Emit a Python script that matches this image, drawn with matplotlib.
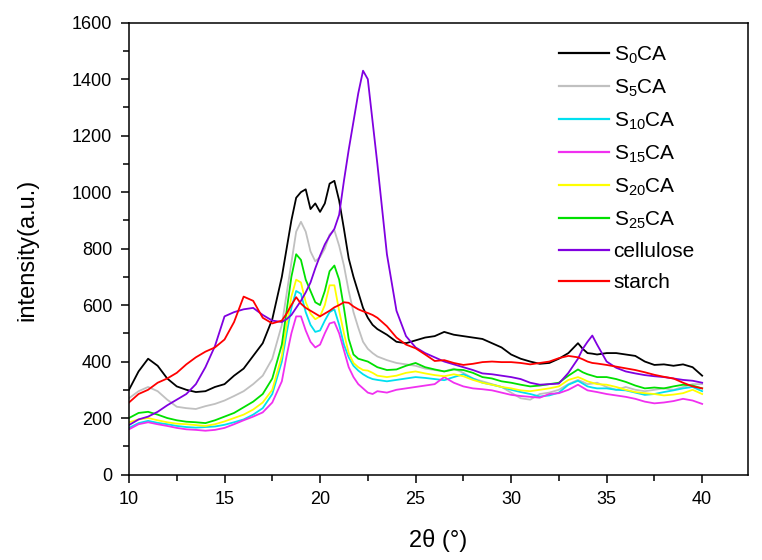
import matplotlib
matplotlib.use("Agg")
import matplotlib.pyplot as plt
from matplotlib.ticker import MultipleLocator
import numpy as np

plt.rcParams['font.family'] = ['Liberation Sans', 'DejaVu Sans']
plt.rcParams['mathtext.fontset'] = 'custom'
plt.rcParams['mathtext.rm'] = 'Liberation Sans'
plt.rcParams['mathtext.it'] = 'Liberation Sans:italic'

two_theta = [10, 10.5, 11, 11.5, 12, 12.5, 13, 13.5, 14, 14.5, 15, 15.5, 16, 16.5, 17, 17.5, 18,
             18.25, 18.5, 18.75, 19, 19.25, 19.5, 19.75, 20, 20.25, 20.5, 20.75, 21, 21.25, 21.5, 21.75, 22, 22.25, 22.5, 22.75, 23,
             23.5, 24, 24.5, 25, 25.5, 26, 26.5, 27, 27.5, 28, 28.5, 29, 29.5, 30, 30.5, 31, 31.5, 32, 32.5, 33, 33.5,
             33.75, 34, 34.25, 34.5,
             35, 35.5, 36, 36.5, 37, 37.5, 38, 38.5, 39, 39.5, 40]

s0ca = [300, 365, 410, 385, 340, 312, 300, 292, 295, 310, 320, 350, 375, 420, 465, 550, 700,
        800, 900, 980, 1000, 1010, 940, 960, 930, 960, 1030, 1040, 970, 870, 765, 700, 645, 590, 555, 530, 515,
        495, 470, 465, 475, 485, 490, 505, 495, 490, 485, 480, 465, 450, 425, 410, 400, 392, 395, 410, 430, 465,
        445, 430, 428, 425,
        430, 430, 425, 420, 400, 388, 390, 385, 390, 380, 350]

s5ca = [270, 295, 310, 295, 265, 240, 235, 232, 242, 250, 262, 278, 295, 320, 350, 410, 530,
        640, 750, 860, 895, 860, 790, 755, 770, 800, 850, 865, 810, 740, 650, 575, 520, 470, 445, 430, 418,
        405, 395, 390, 385, 375, 370, 365, 375, 360, 340, 330, 320, 310, 290, 270, 265, 285, 290, 300, 320, 335,
        328, 320, 322, 325,
        310, 300, 310, 300, 295, 300, 305, 300, 310, 320, 320]

s10ca = [165, 182, 190, 183, 178, 172, 168, 166, 168, 170, 176, 185, 195, 212, 235, 285, 400,
         500, 590, 650, 640, 575, 530, 505, 510, 545, 575, 585, 530, 460, 415, 385, 368, 355, 345, 338, 335,
         330, 335, 340, 345, 342, 338, 334, 345, 355, 340, 325, 318, 310, 300, 292, 285, 276, 280, 290, 318, 332,
         322, 312, 308, 305,
         305, 300, 298, 290, 282, 285, 292, 298, 305, 310, 295]

s15ca = [160, 178, 185, 178, 172, 165, 160, 158, 155, 158, 165, 178, 192, 205, 220, 255, 330,
         420, 500, 560, 560, 510, 470, 450, 460, 500, 535, 540, 500, 440, 380, 345, 320, 305, 290, 285, 295,
         290, 300, 305, 310, 315, 320, 345, 325, 312, 305, 302, 298, 290, 282, 278, 275, 272, 285, 288, 300, 318,
         308, 298, 295, 292,
         285, 280, 275, 268, 258, 252, 255, 260, 268, 262, 250]

s20ca = [185, 195, 200, 192, 185, 180, 178, 175, 172, 178, 188, 200, 212, 230, 255, 300, 420,
         530, 630, 690, 680, 610, 570, 550, 560, 600, 670, 670, 580, 500, 430, 395, 380, 370, 368, 360, 350,
         345, 350, 360, 365, 358, 352, 348, 355, 348, 335, 325, 318, 310, 305, 298, 295, 300, 305, 312, 335, 345,
         338, 330, 325, 320,
         318, 310, 300, 292, 288, 285, 280, 283, 288, 300, 285]

s25ca = [200, 218, 222, 212, 200, 192, 187, 185, 182, 192, 205, 218, 238, 258, 285, 340, 460,
         580, 700, 780, 760, 690, 650, 610, 600, 650, 720, 740, 690, 590, 480, 425, 410, 405, 400, 390, 380,
         370, 372, 385, 395, 380, 372, 365, 372, 370, 360, 345, 340, 330, 325, 318, 312, 315, 320, 325, 350, 372,
         362, 355, 350, 345,
         345, 338, 328, 315, 305, 308, 305, 312, 318, 315, 305]

cellulose = [175, 195, 205, 222, 245, 265, 285, 320, 380, 455, 560, 575, 585, 590, 565, 545, 540,
             550, 565, 590, 615, 645, 680, 730, 775, 815, 845, 870, 920, 1040, 1150, 1250, 1350, 1430, 1400, 1250, 1100,
             780, 580, 490, 450, 430, 415, 400, 390, 380, 370, 358, 355, 350, 345, 338, 325, 318, 320, 322, 360, 410,
             445, 470, 492, 460,
             400, 378, 365, 358, 352, 348, 345, 340, 335, 332, 325]

starch = [255, 285, 300, 325, 340, 360, 390, 415, 435, 450, 478, 540, 630, 615, 555, 535, 545,
          570, 600, 628, 605, 590, 580, 570, 560, 570, 580, 592, 600, 610, 608, 595, 585, 578, 572, 565, 555,
          525, 485, 460, 447, 425, 402, 405, 395, 388, 392, 398, 400, 398, 398, 395, 390, 395, 400, 412, 420, 415,
          408, 400, 395, 393,
          388, 382, 376, 370, 362, 353, 346, 340, 325, 312, 305]

labels = [r'S$_\mathregular{0}$CA', r'S$_\mathregular{5}$CA', r'S$_\mathregular{10}$CA',
          r'S$_\mathregular{15}$CA', r'S$_\mathregular{20}$CA', r'S$_\mathregular{25}$CA',
          'cellulose', 'starch']
colors = ['#000000', '#c0c0c0', '#00e0f0', '#f030f0', '#ffff00', '#00e000', '#8000e0', '#ff0000']
series = [s0ca, s5ca, s10ca, s15ca, s20ca, s25ca, cellulose, starch]

fig = plt.figure(figsize=(7.62, 5.60), dpi=100)
ax = fig.add_axes([129/762, 1 - 474.5/560, (748 - 129)/762, (474.5 - 22.7)/560])

for y, c, lab in zip(series, colors, labels):
    ax.plot(two_theta, y, color=c, lw=1.3, label=lab)

ax.set_xlim(10, 42.4)
ax.set_ylim(0, 1600)
ax.xaxis.set_major_locator(MultipleLocator(5))
ax.xaxis.set_minor_locator(MultipleLocator(2.5))
ax.yaxis.set_major_locator(MultipleLocator(200))
ax.yaxis.set_minor_locator(MultipleLocator(100))
ax.tick_params(which='both', direction='out', top=False, right=False, labelsize=13, width=1.1)
ax.tick_params(which='major', length=6)
ax.tick_params(which='minor', length=4)
ax.tick_params(axis='x', which='major', pad=6)
ax.tick_params(axis='y', which='major', pad=6)
for s in ax.spines.values():
    s.set_linewidth(1.1)

ax.set_xlabel('2θ (°)', fontsize=17)
ax.set_ylabel('intensity(a.u.)', fontsize=17)
ax.xaxis.set_label_coords(0.5, -0.12)
ax.yaxis.set_label_coords(-0.147, 0.497)

leg = ax.legend(loc='upper left', bbox_to_anchor=(0.665, 0.993), frameon=False, fontsize=15,
                handlelength=2.4, handletextpad=0.2, labelspacing=0.56)
for h in leg.get_lines():
    h.set_linewidth(1.6)

fig.savefig('out.png', dpi=100)
